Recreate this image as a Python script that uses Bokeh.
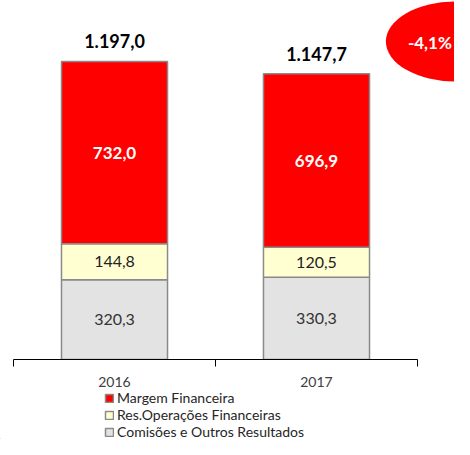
from bokeh.plotting import figure
from bokeh.layouts import column
from bokeh.models import Range1d, LinearAxis, FixedTicker, Legend, LegendItem, ColumnDataSource
from bokeh.core.properties import value
from bokeh.embed import file_html
from bokeh.resources import INLINE

years = ["2016", "2017"]
comissoes = [320.3, 330.3]
res_operacoes = [144.8, 120.5]
margem = [732.0, 696.9]
totals = [1197.0, 1147.7]
series_names = ["Margem Financeira", "Res.Operações Financeiras", "Comisões e Outros Resultados"]
colors = ["#FF0000", "#FFFFD2", "#E3E3E3"]
edge = "#8A8A8A"

def fmt(v):
    s = f"{v:,.1f}"
    return s.replace(",", "X").replace(".", ",").replace("X", ".")

change = (totals[1] / totals[0] - 1) * 100

xs = [i + 0.5 for i in range(len(years))]
src = ColumnDataSource(dict(x=xs, com=comissoes, res=res_operacoes, mar=margem))

FONT = "Lato"
p = figure(width=454, height=389,
           x_range=Range1d(-0.0644, 2.1832), y_range=Range1d(0, 1442),
           x_axis_type=None, y_axis_type=None,
           output_backend="svg", toolbar_location=None,
           min_border_left=0, min_border_right=0, min_border_top=0, min_border_bottom=30,
           outline_line_color=None, background_fill_color="white", border_fill_color="white")

renderers = p.vbar_stack(["com", "res", "mar"], x="x", width=0.525, source=src,
                         color=[colors[2], colors[1], colors[0]],
                         line_color=edge, line_width=1.5)

# segment labels
com_mid = [c / 2 for c in comissoes]
res_mid = [c + r / 2 for c, r in zip(comissoes, res_operacoes)]
mar_mid = [c + r + m / 2 for c, r, m in zip(comissoes, res_operacoes, margem)]
p.text(x=xs, y=com_mid, text=[fmt(v) for v in comissoes], text_align="center", text_baseline="middle",
       text_font=value(FONT), text_font_size="16px", text_color="#333333")
p.text(x=xs, y=res_mid, text=[fmt(v) for v in res_operacoes], text_align="center", text_baseline="middle",
       text_font=value(FONT), text_font_size="16px", text_color="#222222")
p.text(x=xs, y=mar_mid, text=[fmt(v) for v in margem], text_align="center", text_baseline="middle",
       text_font=value(FONT), text_font_size="17px", text_font_style="bold", text_color="white")
p.text(x=xs, y=totals, y_offset=-20, text=[fmt(v) for v in totals], text_align="center", text_baseline="middle",
       text_font=value(FONT), text_font_size="18px", text_font_style="bold", text_color="black")

# change badge
BADGE_X, BADGE_Y = 2.19, 1277
p.ellipse(x=[BADGE_X], y=[BADGE_Y], width=140, height=80, width_units="screen", height_units="screen",
          fill_color="#FF0000", line_color=None)
p.text(x=[BADGE_X], y=[BADGE_Y], x_offset=-26, y_offset=1, text=[f"{change:.1f}%".replace(".", ",")],
       text_align="center", text_baseline="middle", text_font=value(FONT), text_font_size="17px",
       text_font_style="bold", text_color="white")

xaxis = LinearAxis(bounds=(0, 2),
                   ticker=FixedTicker(ticks=xs, minor_ticks=[0, 1, 2]),
                   major_label_overrides={x: y for x, y in zip(xs, years)},
                   major_tick_out=0, major_tick_in=0, minor_tick_out=7, minor_tick_in=0,
                   axis_line_color="black", minor_tick_line_color="black",
                   major_label_standoff=10, major_label_text_font=FONT,
                   major_label_text_font_size="14px", major_label_text_color="#404040")
p.add_layout(xaxis, "below")

# legend strip (dummy renderers lie far outside the visible range)
p2 = figure(width=454, height=50, x_range=Range1d(0, 1), y_range=Range1d(0, 1),
            x_axis_type=None, y_axis_type=None, output_backend="svg", toolbar_location=None,
            min_border_left=0, min_border_right=0, min_border_top=0, min_border_bottom=0,
            outline_line_color=None, background_fill_color="white", border_fill_color="white")
items = []
for name, col in zip(series_names, colors):
    r = p2.vbar(x=[-50], top=[-50], bottom=[-51], width=0.1, fill_color=col, line_color=edge, line_width=1.5)
    items.append(LegendItem(label=name, renderers=[r]))
legend = Legend(items=items, location=(104, -1), orientation="vertical",
                label_text_font=FONT, label_text_font_size="14px", label_text_color="#262626",
                glyph_width=10, glyph_height=10, label_height=13, spacing=-3, padding=0, margin=0,
                label_standoff=3, border_line_color=None, background_fill_alpha=0)
p2.add_layout(legend, "center")

layout = column(p, p2, spacing=0)
open("out.html", "w").write(file_html(layout, INLINE))
